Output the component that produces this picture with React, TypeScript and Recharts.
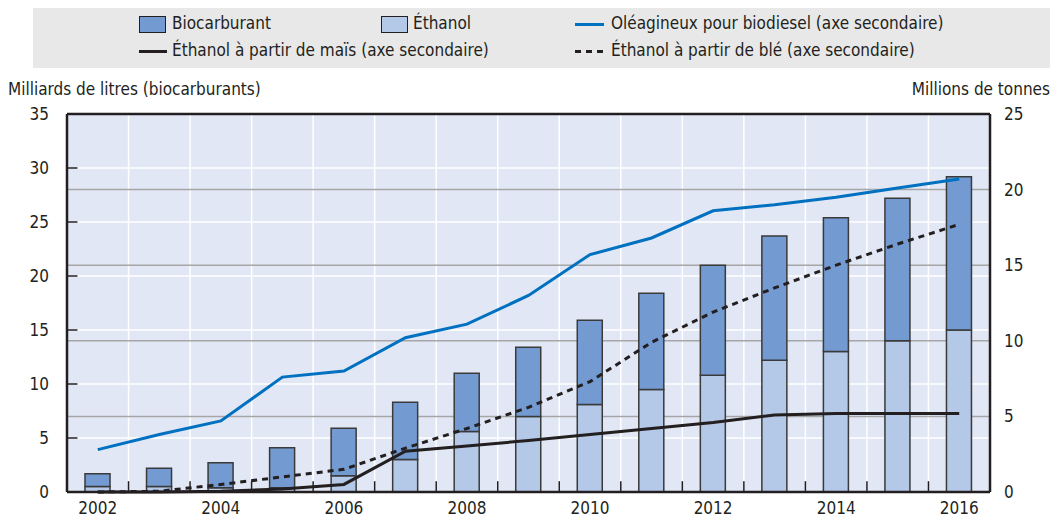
import React from 'react';
import {
  ComposedChart, Bar, Line, XAxis, YAxis, CartesianGrid, ReferenceLine,
} from 'recharts';

const years = [2002, 2003, 2004, 2005, 2006, 2007, 2008, 2009, 2010, 2011, 2012, 2013, 2014, 2015, 2016];
const biofuel = [1.7, 2.2, 2.7, 4.1, 5.9, 8.3, 11.0, 13.4, 15.9, 18.4, 21.0, 23.7, 25.4, 27.2, 29.2];
const ethanol = [0.5, 0.5, 0.4, 0.4, 1.5, 3.0, 5.6, 7.0, 8.1, 9.5, 10.8, 12.2, 13.0, 14.0, 15.0];
const oilseed = [2.8, 3.8, 4.7, 7.6, 8.0, 10.2, 11.1, 13.0, 15.7, 16.8, 18.6, 19.0, 19.5, 20.1, 20.7];
const maize = [0, 0, 0.05, 0.2, 0.5, 2.7, 3.05, 3.4, 3.8, 4.2, 4.6, 5.1, 5.2, 5.2, 5.2];
const wheat = [0, 0.05, 0.5, 1.0, 1.5, 2.9, 4.2, 5.6, 7.3, 9.9, 11.9, 13.5, 15.0, 16.4, 17.7];

const leftTicks = [0, 5, 10, 15, 20, 25, 30, 35];
const rightTicks = [0, 5, 10, 15, 20, 25];
const xLabelYears = [2002, 2004, 2006, 2008, 2010, 2012, 2014, 2016];

const data = years.map((y, i) => ({
  year: y,
  eth: ethanol[i],
  rest: +(biofuel[i] - ethanol[i]).toFixed(2),
  oil: oilseed[i],
  maize: maize[i],
  wheat: wheat[i],
}));

const boundaries = years.slice(0, -1).map((y) => y + 0.5);

const FONT = '"Liberation Sans Narrow", "Arial Narrow", "DejaVu Sans Condensed", sans-serif';
const INK = '#231f20';
const DARK = '#739bd2';
const LIGHT = '#b4c8e8';
const BLUE = '#0070c0';

const legendText: React.CSSProperties = {
  position: 'absolute', fontSize: 17, color: INK, lineHeight: '20px', whiteSpace: 'nowrap',
};

export default function App() {
  return (
    <div style={{ position: 'absolute', left: 0, top: 0, width: 1057, height: 521, background: '#fff', fontFamily: FONT }}>
      {/* Legend */}
      <div style={{ position: 'absolute', left: 33, top: 8, width: 1017, height: 60, background: '#e8e8e8' }} />
      <div style={{ position: 'absolute', left: 139, top: 16, width: 25, height: 15, background: DARK, border: `1px solid ${INK}` }} />
      <div style={{ ...legendText, left: 172, top: 13 }}>Biocarburant</div>
      <div style={{ position: 'absolute', left: 381, top: 16, width: 25, height: 15, background: LIGHT, border: `1px solid ${INK}` }} />
      <div style={{ ...legendText, left: 413, top: 13 }}>Éthanol</div>
      <div style={{ position: 'absolute', left: 575, top: 23, width: 29, height: 3, background: BLUE }} />
      <div style={{ ...legendText, left: 611, top: 13 }}>Oléagineux pour biodiesel (axe secondaire)</div>
      <div style={{ position: 'absolute', left: 139, top: 50, width: 28, height: 3, background: INK }} />
      <div style={{ ...legendText, left: 172, top: 40 }}>Éthanol à partir de maïs (axe secondaire)</div>
      <div style={{ position: 'absolute', left: 575, top: 50, width: 29, height: 3, backgroundImage: `repeating-linear-gradient(to right, ${INK} 0 6px, transparent 6px 11px)` }} />
      <div style={{ ...legendText, left: 611, top: 40 }}>Éthanol à partir de blé (axe secondaire)</div>

      {/* Axis titles */}
      <div style={{ ...legendText, left: 8, top: 79 }}>Milliards de litres (biocarburants)</div>
      <div style={{ ...legendText, right: 7, top: 79 }}>Millions de tonnes</div>

      <div style={{ position: 'absolute', left: 0, top: 0 }}>
        <ComposedChart
          width={1057}
          height={521}
          data={data}
          margin={{ top: 114, right: 0, bottom: 0, left: 0 }}
          barCategoryGap={0}
        >
          <XAxis xAxisId="num" type="number" dataKey="year" domain={[2001.5, 2016.5]} ticks={boundaries} hide allowDataOverflow />
          <XAxis
            xAxisId="cat"
            dataKey="year"
            height={29}
            ticks={xLabelYears}
            interval={0}
            tickLine={false}
            axisLine={{ stroke: INK, strokeWidth: 2.5 }}
            tick={{ fill: INK, fontSize: 17, fontFamily: FONT }}
            tickMargin={4}
          />
          <YAxis
            yAxisId="left"
            domain={[0, 35]}
            ticks={leftTicks}
            width={67}
            tickLine={false}
            axisLine={{ stroke: INK, strokeWidth: 2.5 }}
            tick={{ fill: INK, fontSize: 17, fontFamily: FONT }}
            tickMargin={12}
            interval={0}
          />
          <YAxis
            yAxisId="right"
            orientation="right"
            domain={[0, 25]}
            ticks={rightTicks}
            width={67}
            tickLine={false}
            axisLine={{ stroke: INK, strokeWidth: 2.5 }}
            tick={{ fill: INK, fontSize: 17, fontFamily: FONT, textAnchor: 'start' }}
            tickMargin={8}
            interval={0}
          />
          <CartesianGrid xAxisId="num" yAxisId="left" stroke="#ffffff" strokeWidth={1.5} fill="#e1e7f4" />
          <CartesianGrid xAxisId="num" yAxisId="right" stroke="#a6a6a6" strokeWidth={1.5} vertical={false} />
          {boundaries.map((b) => (
            <ReferenceLine
              key={`bt${b}`}
              xAxisId="num"
              yAxisId="left"
              segment={[{ x: b, y: 0 }, { x: b, y: 1 }]}
              stroke={INK}
              strokeWidth={1.5}
            />
          ))}
          {leftTicks.slice(1, -1).map((v) => (
            <ReferenceLine
              key={`lt${v}`}
              xAxisId="num"
              yAxisId="left"
              segment={[{ x: 2001.5, y: v }, { x: 2001.67, y: v }]}
              stroke={INK}
              strokeWidth={1.5}
            />
          ))}
          <Bar xAxisId="cat" yAxisId="left" dataKey="eth" stackId="a" fill={LIGHT} stroke="#3a3a3a" strokeWidth={1.5} barSize={25} isAnimationActive={false} />
          <Bar xAxisId="cat" yAxisId="left" dataKey="rest" stackId="a" fill={DARK} stroke="#3a3a3a" strokeWidth={1.5} barSize={25} isAnimationActive={false} />
          <Line xAxisId="cat" yAxisId="right" dataKey="maize" stroke={INK} strokeWidth={3} dot={false} isAnimationActive={false} />
          <Line xAxisId="cat" yAxisId="right" dataKey="wheat" stroke={INK} strokeWidth={3} strokeDasharray="6 5" dot={false} isAnimationActive={false} />
          <Line xAxisId="cat" yAxisId="right" dataKey="oil" stroke={BLUE} strokeWidth={3} dot={false} isAnimationActive={false} />
          <ReferenceLine xAxisId="num" yAxisId="left" y={35} stroke={INK} strokeWidth={2.5} />
        </ComposedChart>
      </div>
    </div>
  );
}
